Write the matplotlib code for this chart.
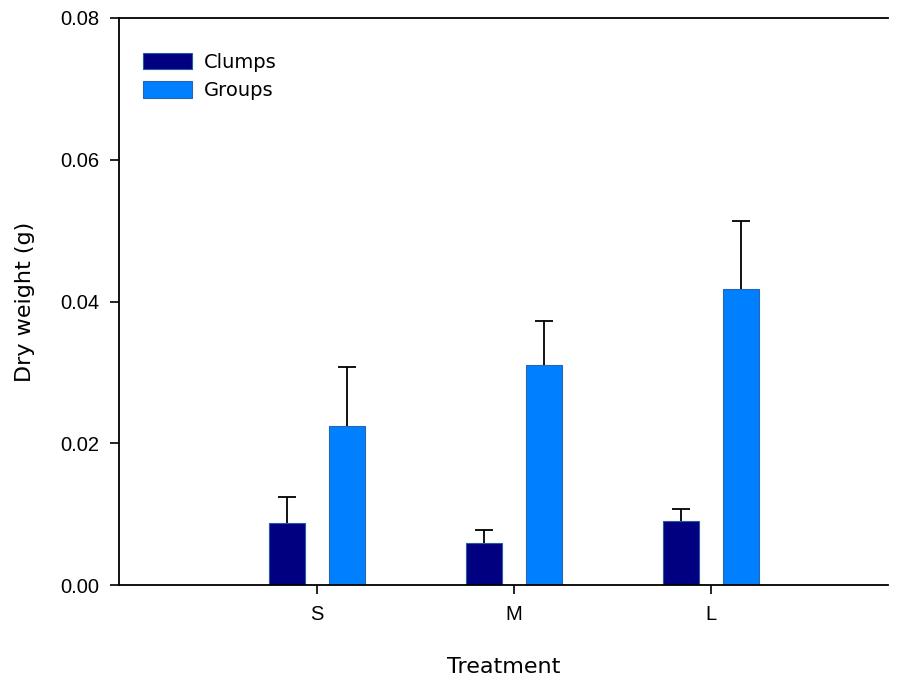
import matplotlib.pyplot as plt
import numpy as np

treatments = ['S', 'M', 'L']
clumps = [0.0088, 0.0059, 0.0091]
clumps_err = [0.0036, 0.0018, 0.0016]
groups = [0.0225, 0.0311, 0.0418]
groups_err = [0.0083, 0.0061, 0.0095]

fig = plt.figure(figsize=(8.97, 6.79), dpi=100)
ax = fig.add_axes([0.1327, 0.1384, 0.8573, 0.8351])

x = np.arange(len(treatments))
w = 0.183
off = 0.152
cap = 0.046


def bars(pos, vals, errs, color, edge, label):
    vals = np.array(vals)
    errs = np.array(errs)
    ax.bar(pos, vals, w, color=color, edgecolor=edge, linewidth=0.8, label=label, zorder=2)
    # upper error bars only, no cap at the bar top
    ax.vlines(pos, vals, vals + errs, color='black', linewidth=1.3, zorder=3)
    ax.hlines(vals + errs, pos - cap, pos + cap, color='black', linewidth=1.3, zorder=3)


bars(x - off, clumps, clumps_err, '#000080', '#2a5aa0', 'Clumps')
bars(x + off, groups, groups_err, '#0080ff', '#2a66b0', 'Groups')

ax.set_xlim(-1.004, 2.9)
ax.set_ylim(0, 0.08)
ax.set_yticks([0.0, 0.02, 0.04, 0.06, 0.08])
ax.set_yticklabels(['0.00', '0.02', '0.04', '0.06', '0.08'])
ax.set_xticks(x)
ax.set_xticklabels(treatments)

ax.spines['right'].set_visible(False)
for s in ['left', 'bottom', 'top']:
    ax.spines[s].set_linewidth(1.3)
ax.tick_params(axis='both', direction='out', length=6.5, width=1.2, pad=8,
               labelsize=14.5, top=False, right=False)
for lab in ax.get_xticklabels() + ax.get_yticklabels():
    lab.set_family('Liberation Sans')

ax.set_xlabel('Treatment', fontsize=16, family='DejaVu Sans', labelpad=24)
ax.set_ylabel('Dry weight (g)', fontsize=16, family='DejaVu Sans', labelpad=18)

ax.legend(loc='upper left', frameon=False, fontsize=14, handlelength=2.55, handleheight=0.95,
          labelspacing=0.5, handletextpad=0.6, borderaxespad=0.3, bbox_to_anchor=(0.013, 0.963))

fig.savefig('out.png', dpi=100)
